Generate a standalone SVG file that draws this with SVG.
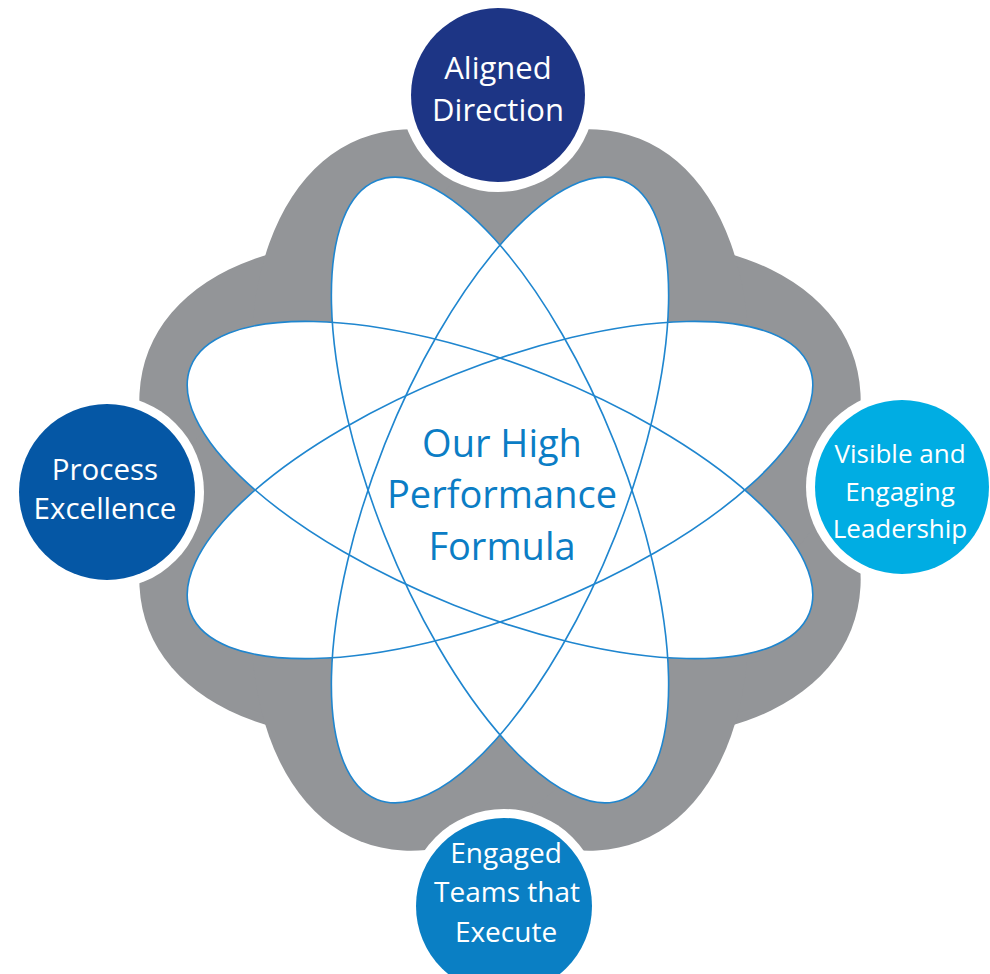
<svg xmlns="http://www.w3.org/2000/svg" width="990" height="974" viewBox="0 0 990 974">
  <style>
    .band { fill: #939598; stroke: none; }
    .fill { fill: #ffffff; stroke: none; }
    .orbit { fill: none; stroke: #1f86cf; stroke-width: 1.6; }
    .ring { fill: #ffffff; }
    .label { font-family: "Open Sans", "Liberation Sans", sans-serif; fill: #ffffff; text-anchor: middle; }
    .core { font-family: "Open Sans", "Liberation Sans", sans-serif; fill: #0b7dc5; text-anchor: middle; font-size: 38px; }
  </style>
  <defs>
    <!-- one orbit, and the wider grey backing behind it -->
    <ellipse id="orb" cx="0" cy="0" rx="333" ry="124"/>
    <ellipse id="halo" cx="0" cy="0" rx="378" ry="222"/>
  </defs>

  <rect x="0" y="0" width="990" height="974" fill="#ffffff"/>

  <!-- grey backing shape -->
  <g id="band" transform="translate(500 490)">
    <use href="#halo" class="band" transform="rotate(21.7)"/>
    <use href="#halo" class="band" transform="rotate(-21.7)"/>
    <use href="#halo" class="band" transform="rotate(68.3)"/>
    <use href="#halo" class="band" transform="rotate(-68.3)"/>
  </g>

  <!-- white interiors -->
  <g id="interior" transform="translate(500 490)">
    <use href="#orb" class="fill" transform="rotate(21.7)"/>
    <use href="#orb" class="fill" transform="rotate(-21.7)"/>
    <use href="#orb" class="fill" transform="rotate(68.3)"/>
    <use href="#orb" class="fill" transform="rotate(-68.3)"/>
  </g>

  <!-- orbit lines -->
  <g id="connectors" transform="translate(500 490)">
    <use href="#orb" class="orbit" transform="rotate(21.7)"/>
    <use href="#orb" class="orbit" transform="rotate(-21.7)"/>
    <use href="#orb" class="orbit" transform="rotate(68.3)"/>
    <use href="#orb" class="orbit" transform="rotate(-68.3)"/>
  </g>

  <g id="core">
    <text class="core" x="502" y="457">Our High</text>
    <text class="core" x="502" y="508">Performance</text>
    <text class="core" x="502" y="560">Formula</text>
  </g>

  <g id="aligned-direction">
    <circle class="ring" cx="498" cy="95" r="97"/>
    <circle cx="498" cy="95" r="87" fill="#1d3585"/>
    <text class="label" font-size="31" x="498" y="79">Aligned</text>
    <text class="label" font-size="31" x="498" y="121">Direction</text>
  </g>

  <g id="process-excellence">
    <circle class="ring" cx="107" cy="492" r="97"/>
    <circle cx="107" cy="492" r="88" fill="#0557a5"/>
    <text class="label" font-size="29.5" x="105" y="480">Process</text>
    <text class="label" font-size="29.5" x="105" y="519">Excellence</text>
  </g>

  <g id="visible-engaging-leadership">
    <circle class="ring" cx="902" cy="487" r="96"/>
    <circle cx="902" cy="487" r="87" fill="#00ade3"/>
    <text class="label" font-size="26" x="900" y="463">Visible and</text>
    <text class="label" font-size="26" x="900" y="501">Engaging</text>
    <text class="label" font-size="26" x="900" y="538">Leadership</text>
  </g>

  <g id="engaged-teams">
    <circle class="ring" cx="504" cy="906" r="97"/>
    <circle cx="504" cy="906" r="88" fill="#0a7fc4"/>
    <text class="label" font-size="28" x="506" y="863">Engaged</text>
    <text class="label" font-size="28" x="507" y="902">Teams that</text>
    <text class="label" font-size="28" x="506" y="942">Execute</text>
  </g>
</svg>
